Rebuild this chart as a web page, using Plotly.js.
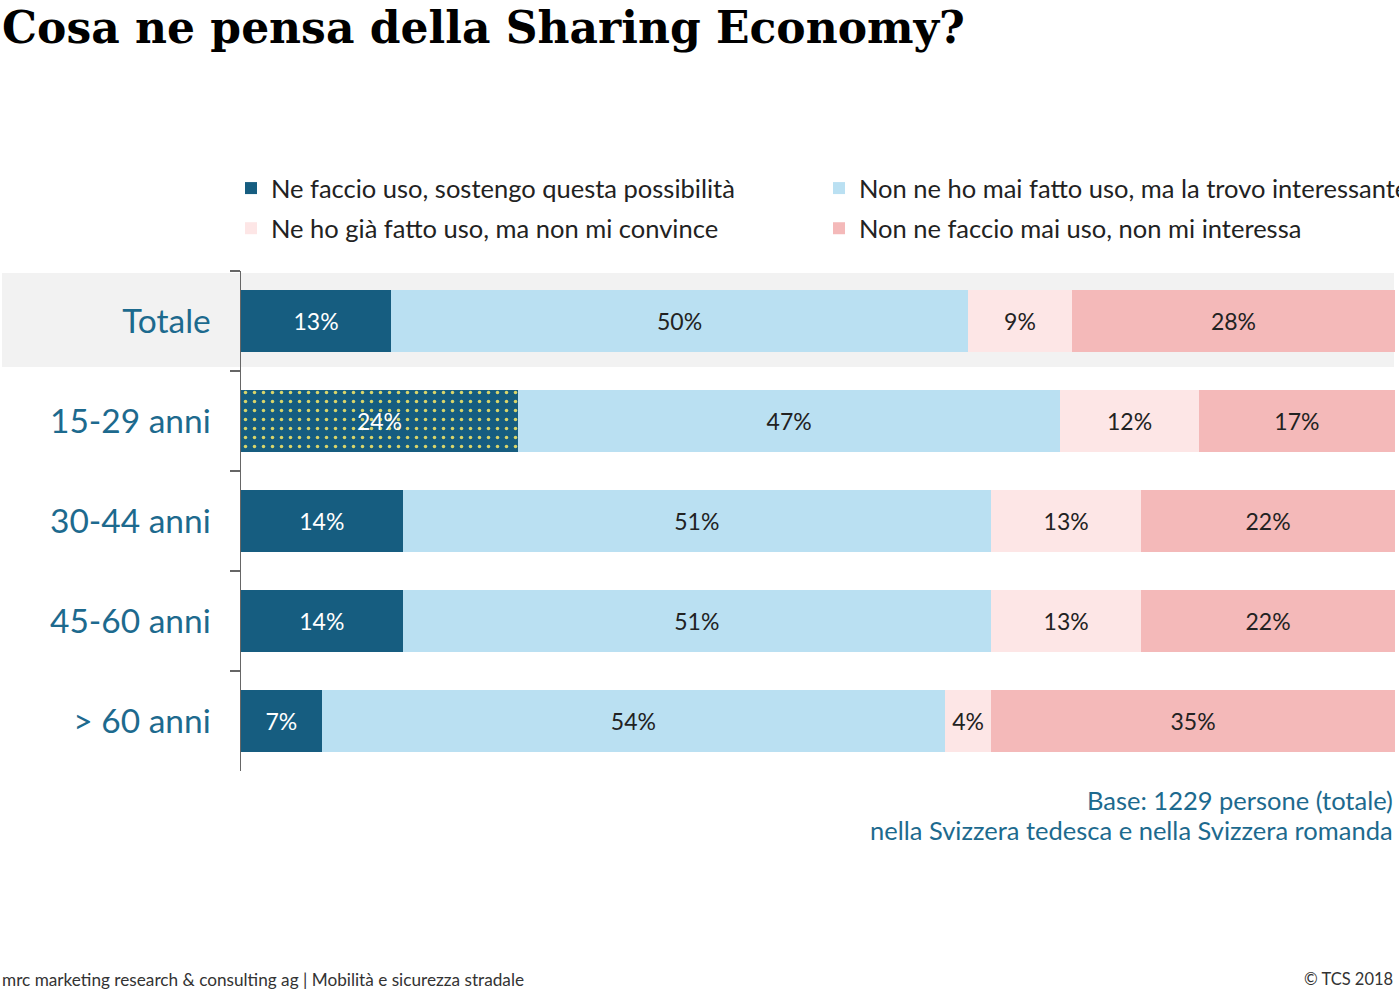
<!DOCTYPE html>
<html>
<head>
<meta charset="utf-8">
<script src="https://cdn.plot.ly/plotly-3.0.1.min.js"></script>
<style>html,body{margin:0;padding:0;background:#fff;}#chart{width:1399px;height:1000px;}</style>
</head>
<body>
<div id="chart"></div>
<script>
const categories = ["Totale", "15-29 anni", "30-44 anni", "45-60 anni", "> 60 anni"];
const seriesNames = [
  "Ne faccio uso, sostengo questa possibilità",
  "Non ne ho mai fatto uso, ma la trovo interessante",
  "Ne ho già fatto uso, ma non mi convince",
  "Non ne faccio mai uso, non mi interessa"
];
const usa = [13, 24, 14, 14, 7];
const interessante = [50, 47, 51, 51, 54];
const nonConvince = [9, 12, 13, 13, 4];
const nonInteressa = [28, 17, 22, 22, 35];
const highlightPattern = ["", ".", "", "", ""];

const colors = ["#165d80", "#bae0f2", "#fde6e6", "#f4b9b9"];
const textColors = ["#ffffff", "#222222", "#222222", "#222222"];
const values = [usa, interessante, nonConvince, nonInteressa];
const legends = ["legend", "legend2", "legend", "legend2"];

// plot-area geometry in page pixels
const L = 241, R = 1395, T = 271, B = 771;
const W = R - L, H = B - T;
const px2x = p => (p - L) / W;
const px2y = p => 1 - (p - T) / H;

const traces = values.map((v, i) => {
  const t = {
    type: "bar",
    orientation: "h",
    name: seriesNames[i],
    y: categories,
    x: v,
    text: v.map(d => d + "%"),
    textposition: "inside",
    insidetextanchor: "middle",
    textangle: 0,
    constraintext: "none",
    textfont: {family: "Lato, sans-serif", size: 23, color: textColors[i]},
    marker: {color: colors[i], line: {width: 0}},
    legend: legends[i],
    legendgroup: "g" + i,
    hoverinfo: "skip",
    width: 0.62
  };
  if (i === 0) {
    t.marker.pattern = {shape: highlightPattern, fgcolor: "#d9d56a", bgcolor: colors[0], size: 9, solidity: 0.12, fillmode: "replace"};
  }
  return t;
});

const legendCommon = {
  orientation: "v",
  xref: "paper", yref: "paper",
  xanchor: "left", yanchor: "top",
  font: {family: "Lato, sans-serif", size: 25.5, color: "#222"},
  bgcolor: "rgba(0,0,0,0)",
  traceorder: "grouped",
  tracegroupgap: 4,
  itemclick: false, itemdoubleclick: false
};

const layout = {
  width: 1399, height: 1000,
  margin: {l: L, r: 1399 - R, t: T, b: 1000 - B, autoexpand: false},
  paper_bgcolor: "#ffffff",
  plot_bgcolor: "rgba(0,0,0,0)",
  barmode: "stack",
  showlegend: true,
  title: {
    text: "<b>Cosa ne pensa della Sharing Economy?</b>",
    font: {family: "DejaVu Serif, serif", size: 44, color: "#000"},
    x: 0.0015, xanchor: "left", xref: "container",
    y: 0.972, yanchor: "middle", yref: "container"
  },
  xaxis: {range: [0, 100], visible: false, fixedrange: true},
  yaxis: {
    type: "category",
    range: [4.5, -0.5],
    tickson: "boundaries",
    ticks: "outside", ticklen: 10, tickwidth: 1.5, tickcolor: "#666",
    showline: true, linecolor: "#666", linewidth: 1.5,
    showgrid: false, zeroline: false,
    tickfont: {family: "Lato, sans-serif", size: 33.5, color: "#1d6a8e"},
    ticklabelstandoff: 22,
    fixedrange: true
  },
  legend: Object.assign({}, legendCommon, {x: px2x(231), y: px2y(165)}),
  legend2: Object.assign({}, legendCommon, {x: px2x(819), y: px2y(165)}),
  shapes: [{
    type: "rect", xref: "paper", yref: "paper", layer: "below",
    x0: px2x(2), x1: px2x(1394),
    y0: px2y(367), y1: px2y(273),
    fillcolor: "#f2f2f2", line: {width: 0}
  }],
  annotations: [
    {text: "Base: 1229 persone (totale)", x: px2x(1395), y: px2y(800),
     xanchor: "right", yanchor: "middle",
     font: {family: "Lato, sans-serif", size: 25.5, color: "#1d6a8e"}},
    {text: "nella Svizzera tedesca e nella Svizzera romanda", x: px2x(1395), y: px2y(830),
     xanchor: "right", yanchor: "middle",
     font: {family: "Lato, sans-serif", size: 25.5, color: "#1d6a8e"}},
    {text: "mrc marketing research &amp; consulting ag | Mobilità e sicurezza stradale",
     x: px2x(0), y: px2y(979), xanchor: "left", yanchor: "middle",
     font: {family: "Lato, sans-serif", size: 17.2, color: "#333"}},
    {text: "© TCS 2018", x: px2x(1395), y: px2y(979),
     xanchor: "right", yanchor: "middle",
     font: {family: "Lato, sans-serif", size: 16.5, color: "#333"}}
  ].map(a => Object.assign({xref: "paper", yref: "paper", showarrow: false}, a))
};

Plotly.newPlot("chart", traces, layout, {displayModeBar: false, staticPlot: true});
</script>
</body>
</html>
